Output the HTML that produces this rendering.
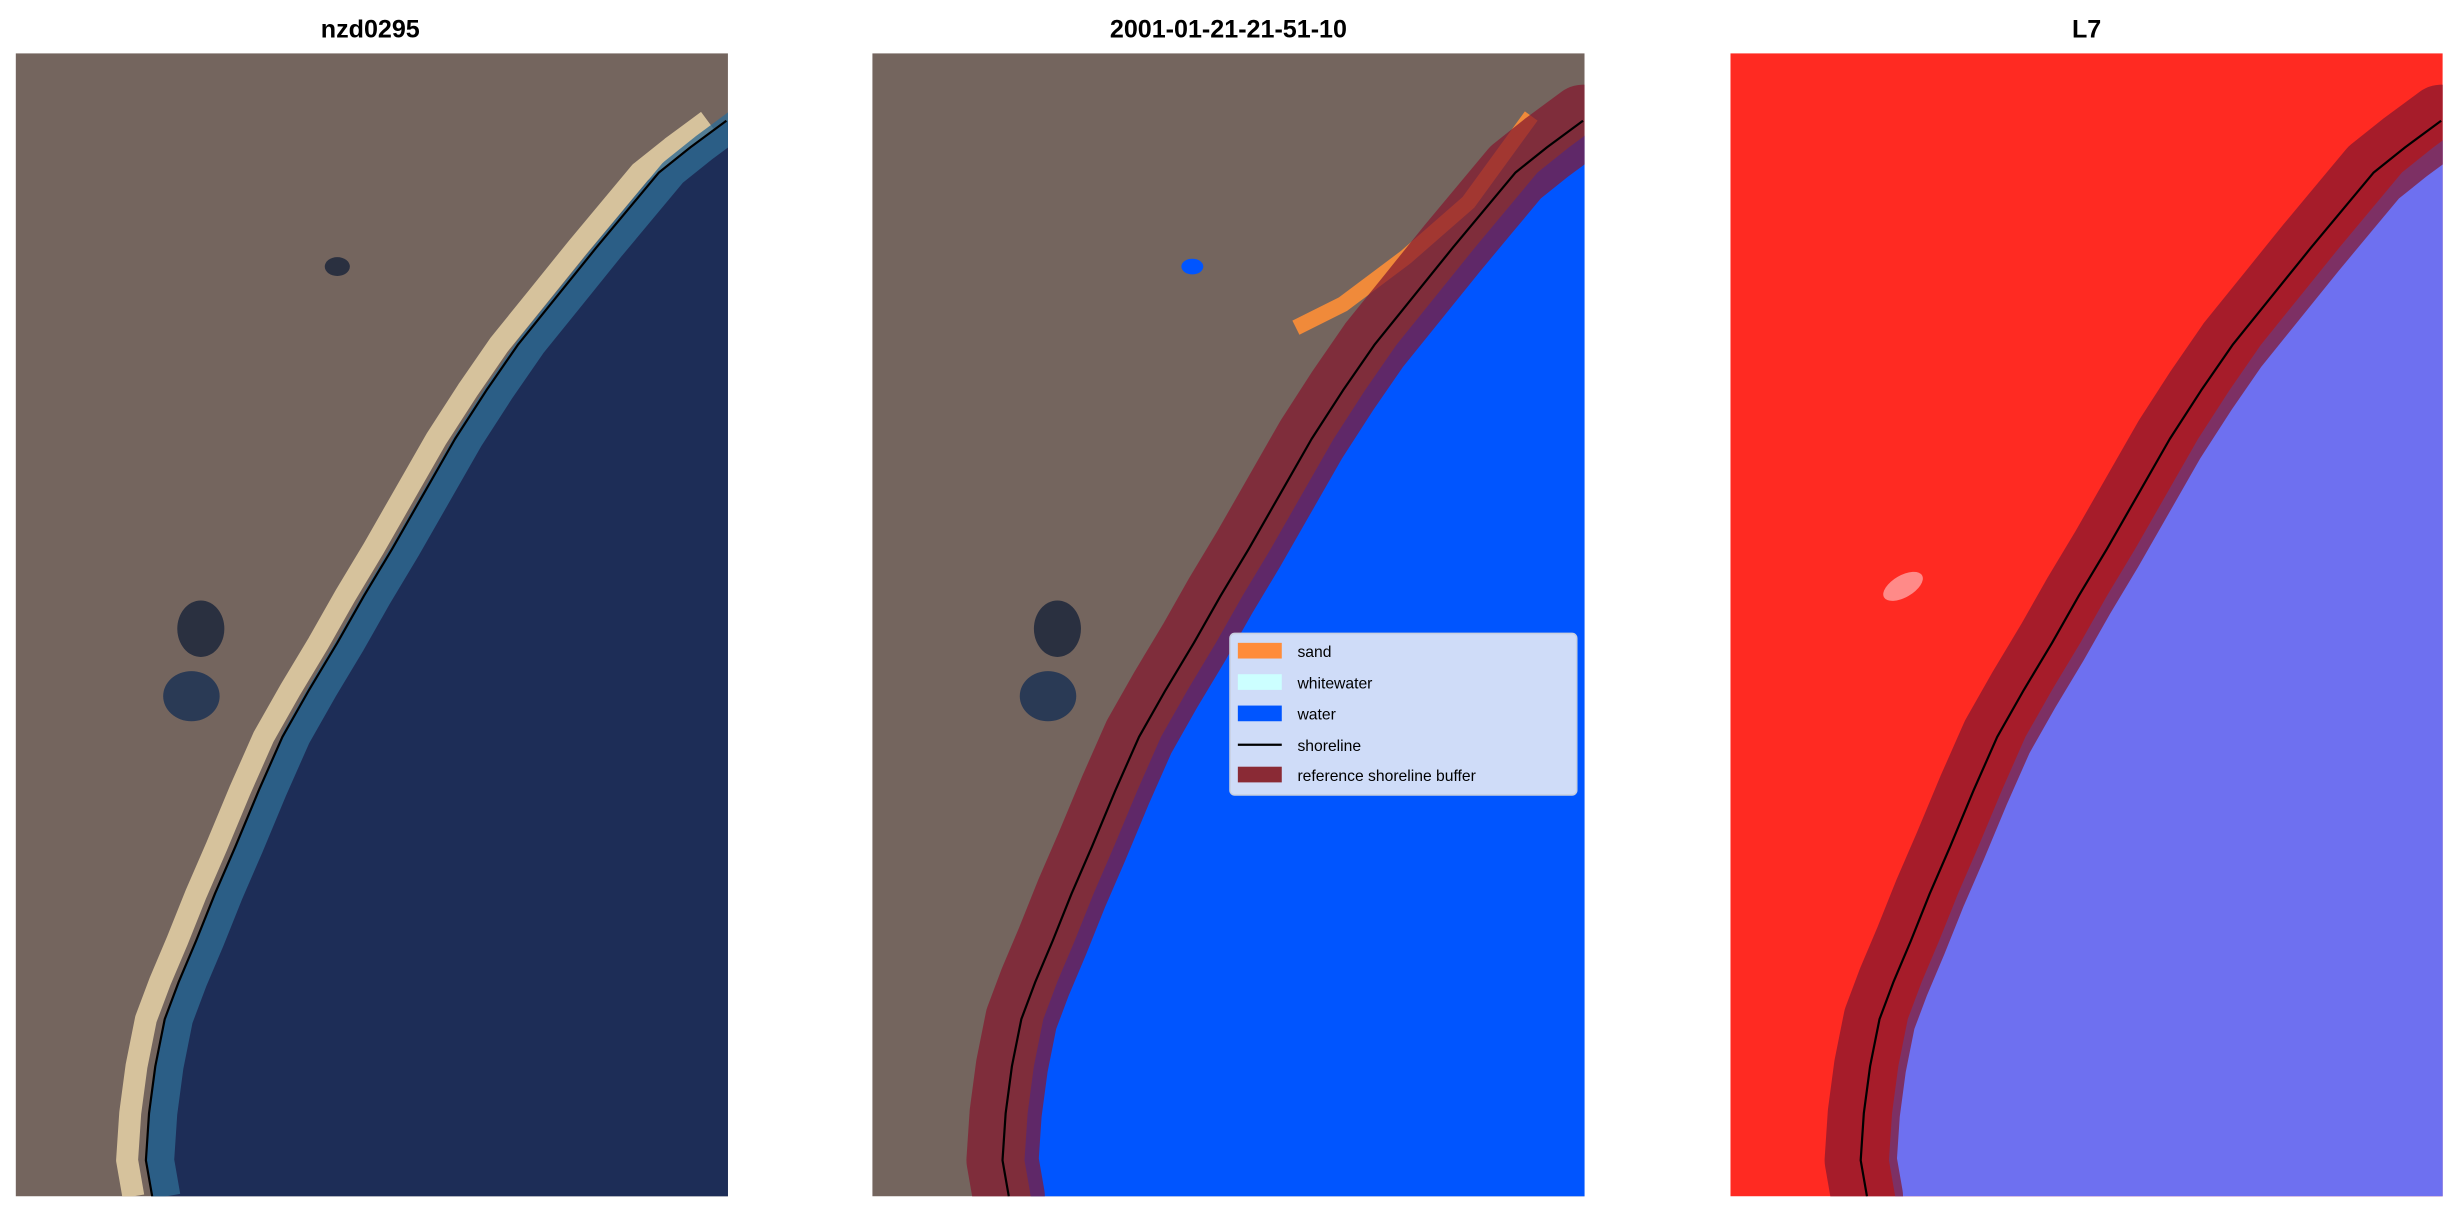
<!DOCTYPE html>
<html><head><meta charset="utf-8"><style>
html,body{margin:0;padding:0;background:#fff}
svg{display:block}
</style></head><body>
<svg width="2460" height="1212" viewBox="0 0 1568 773" preserveAspectRatio="none" xmlns="http://www.w3.org/2000/svg">
<defs>
<clipPath id="c"><rect x="0" y="0" width="454" height="729"/></clipPath>
<path id="sl" d="M453,43 L430,60 L410,76 L390,100 L370,124 L345,155 L320,186 L300,215 L280,246 L260,281 L240,316 L222,346 L205,376 L187,406 L170,436 L155,470 L140,506 L127,536 L115,566 L104,592 L95,616 L89,646 L85,676 L83,706 L87,729" stroke-linejoin="round"/>
<path id="sea" d="M453,43 L430,60 L410,76 L390,100 L370,124 L345,155 L320,186 L300,215 L280,246 L260,281 L240,316 L222,346 L205,376 L187,406 L170,436 L155,470 L140,506 L127,536 L115,566 L104,592 L95,616 L89,646 L85,676 L83,706 L87,729 L460,729 L460,43Z"/>
</defs>
<g font-family="Liberation Sans, DejaVu Sans, sans-serif" font-weight="bold" font-size="16" text-anchor="middle" fill="#000">
<text x="236" y="24">nzd0295</text>
<text x="783" y="24">2001-01-21-21-51-10</text>
<text x="1330" y="24">L7</text>
</g>

<!-- Panel 1 -->
<g transform="translate(10,34)" clip-path="url(#c)">
<rect width="454" height="729" fill="#74655e"/>
<g transform="translate(-12,0)"><use href="#sl" stroke="#d6c29c" stroke-width="14" fill="none"/></g>
<use href="#sea" fill="#1d2d57"/>
<g transform="translate(9,0)"><use href="#sl" stroke="#2f6a92" stroke-width="18" fill="none" opacity="0.8"/></g>
<use href="#sl" stroke="#000" stroke-width="1.4" fill="none"/>
<ellipse cx="205" cy="136" rx="8" ry="6" fill="#2a3040"/>
<ellipse cx="118" cy="367" rx="15" ry="18" fill="#2a3040"/>
<ellipse cx="112" cy="410" rx="18" ry="16" fill="#2a3a55"/>
</g>

<!-- Panel 2 -->
<g transform="translate(556,34)" clip-path="url(#c)">
<rect width="454" height="729" fill="#74655e"/>
<ellipse cx="118" cy="367" rx="15" ry="18" fill="#2a3040"/>
<ellipse cx="112" cy="410" rx="18" ry="16" fill="#2a3a55"/>
<path d="M420,40 L380,95 L340,130 L300,160 L270,175" stroke="#f08a3a" stroke-width="10" fill="none"/>
<g transform="translate(14,0)"><use href="#sea" fill="#0055ff"/></g>
<ellipse cx="204" cy="136" rx="7" ry="5" fill="#0055ff"/>
<use href="#sl" stroke="#84182e" stroke-opacity="0.72" stroke-width="46" stroke-linecap="round" fill="none"/>
<use href="#sl" stroke="#000" stroke-width="1.4" fill="none"/>
</g>

<!-- Legend -->
<g font-family="Liberation Sans, DejaVu Sans, sans-serif" font-size="10" fill="#000">
<rect x="784" y="404" width="221" height="103" rx="3" fill="#cfdcf8" stroke="#c8d0e0"/>
<rect x="789" y="410" width="28" height="10" fill="#ff8c3a"/>
<text x="827" y="419">sand</text>
<rect x="789" y="430" width="28" height="10" fill="#ccffff"/>
<text x="827" y="439">whitewater</text>
<rect x="789" y="450" width="28" height="10" fill="#0055ff"/>
<text x="827" y="459">water</text>
<line x1="789" y1="475" x2="817" y2="475" stroke="#000" stroke-width="1.5"/>
<text x="827" y="479">shoreline</text>
<rect x="789" y="489" width="28" height="10" fill="#8a2a35"/>
<text x="827" y="498">reference shoreline buffer</text>
</g>

<!-- Panel 3 -->
<g transform="translate(1103,34)" clip-path="url(#c)">
<rect width="454" height="729" fill="#ff2a22"/>
<g transform="translate(18,0)"><use href="#sea" fill="#6e70f0"/></g>
<ellipse cx="110" cy="340" rx="14" ry="7" fill="#ff8a88" transform="rotate(-30 110 340)"/>
<use href="#sl" stroke="#84182e" stroke-opacity="0.72" stroke-width="46" stroke-linecap="round" fill="none"/>
<use href="#sl" stroke="#000" stroke-width="1.4" fill="none"/>
</g>
</svg>
</body></html>
